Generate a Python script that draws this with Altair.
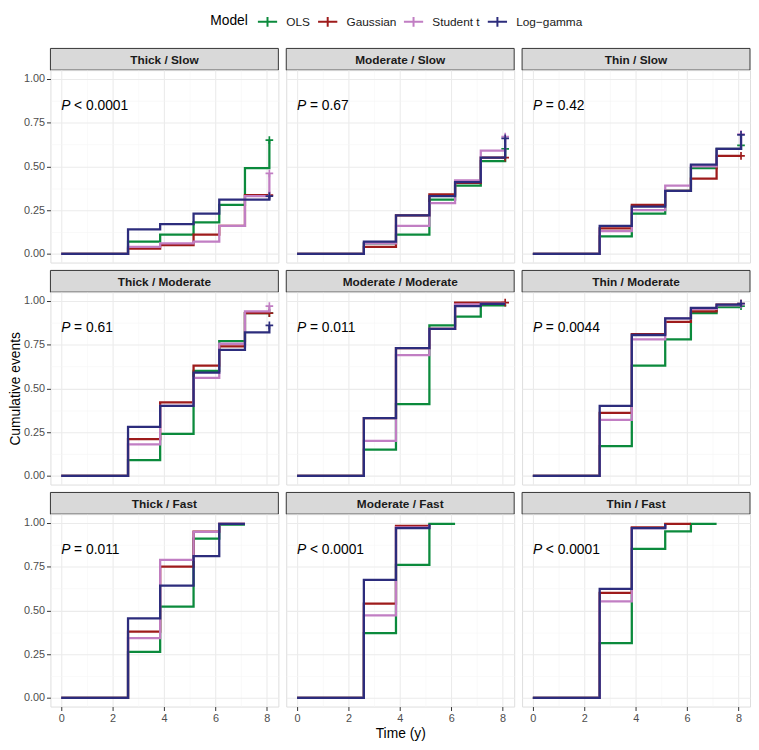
import altair as alt
import pandas as pd

FONT = "Liberation Sans"

# ---------------- data ----------------
times = [0, 2.6, 3.85, 5.15, 6.15, 7.15, 8.1]
models = ["OLS", "Gaussian", "Student t", "Log\u2212gamma"]
colors = ["#0B8A3C", "#9E1B1B", "#C17EC3", "#2C2C7C"]

panel_names = [
    "Thick / Slow", "Moderate / Slow", "Thin / Slow",
    "Thick / Moderate", "Moderate / Moderate", "Thin / Moderate",
    "Thick / Fast", "Moderate / Fast", "Thin / Fast",
]
p_values = ["< 0.0001", "= 0.67", "= 0.42",
            "= 0.61", "= 0.011", "= 0.0044",
            "= 0.011", "< 0.0001", "< 0.0001"]

# cumulative events at the successive event times (OLS, Gaussian, Student t, Log-gamma)
thick_slow = [
    [0, 0.07, 0.11, 0.18, 0.28, 0.49, 0.65],
    [0, 0.03, 0.05, 0.11, 0.16, 0.335, 0.335],
    [0, 0.04, 0.06, 0.07, 0.16, 0.33, 0.46],
    [0, 0.14, 0.17, 0.23, 0.31, 0.31, 0.33],
]
moderate_slow = [
    [0, 0.06, 0.11, 0.31, 0.39, 0.53, 0.60],
    [0, 0.04, 0.22, 0.34, 0.405, 0.55, 0.55],
    [0, 0.06, 0.16, 0.29, 0.42, 0.59, 0.67],
    [0, 0.07, 0.22, 0.33, 0.41, 0.55, 0.66],
]
thin_slow = [
    [0, 0.10, 0.23, 0.36, 0.49, 0.60, 0.62],
    [0, 0.145, 0.28, 0.36, 0.43, 0.56, 0.56],
    [0, 0.13, 0.25, 0.39, 0.50, 0.60, 0.685],
    [0, 0.16, 0.27, 0.36, 0.51, 0.60, 0.68],
]
thick_moderate = [
    [0, 0.09, 0.24, 0.60, 0.77, 0.93, 0.93],
    [0, 0.21, 0.42, 0.63, 0.74, 0.93, 0.93],
    [0, 0.18, 0.40, 0.56, 0.755, 0.94, 0.97],
    [0, 0.28, 0.40, 0.59, 0.72, 0.82, 0.86],
]
moderate_moderate = [
    [0, 0.15, 0.41, 0.86, 0.91, 0.975, 0.98],
    [0, 0.33, 0.73, 0.84, 0.99, 0.99, 0.99],
    [0, 0.20, 0.69, 0.84, 0.98, 0.985, 0.985],
    [0, 0.33, 0.73, 0.84, 0.97, 0.983, 0.983],
]
thin_moderate = [
    [0, 0.17, 0.63, 0.78, 0.93, 0.965, 0.97],
    [0, 0.36, 0.81, 0.88, 0.94, 0.978, 0.985],
    [0, 0.32, 0.78, 0.90, 0.955, 0.975, 0.98],
    [0, 0.40, 0.805, 0.90, 0.96, 0.978, 0.985],
]
thick_fast = [
    [0, 0.263, 0.522, 0.91, 0.99, 0.99],
    [0, 0.379, 0.75, 0.95, 0.994, 0.994],
    [0, 0.341, 0.788, 0.949, 0.994, 0.994],
    [0, 0.454, 0.642, 0.81, 0.994, 0.994],
]
moderate_fast = [
    [0, 0.37, 0.76, 0.994, 0.994],
    [0, 0.538, 0.983, 0.99],
    [0, 0.471, 0.975, 0.99],
    [0, 0.674, 0.97, 0.994],
]
thin_fast = [
    [0, 0.313, 0.852, 0.951, 0.994, 0.994],
    [0, 0.60, 0.975, 0.994, 0.994],
    [0, 0.552, 0.97, 0.99],
    [0, 0.623, 0.97, 0.994],
]
curves = [thick_slow, moderate_slow, thin_slow,
          thick_moderate, moderate_moderate, thin_moderate,
          thick_fast, moderate_fast, thin_fast]

# censoring mark at the end of the curve (per panel, per model)
censored = [
    [True, True, True, True], [True, True, True, True], [True, True, True, True],
    [True, True, True, True], [False, True, False, False], [True, True, True, True],
    [False, False, False, False], [False, False, False, False], [False, False, False, False],
]

rows = []
cens_rows = []
for pi, name in enumerate(panel_names):
    for mi, m in enumerate(models):
        vals = curves[pi][mi]
        for k, v in enumerate(vals):
            rows.append({"panel": name, "model": m, "time": times[k], "value": v, "k": k})
        if censored[pi][mi]:
            cens_rows.append({"panel": name, "model": m,
                              "time": times[len(vals) - 1], "value": vals[-1]})
df = pd.DataFrame(rows)
cdf = pd.DataFrame(cens_rows)

# ---------------- styling ----------------
W, H, SH, GAP = 231, 195, 22, 8
CROSS = "M-1,0L1,0M0,-1L0,1"
LEG_CROSS = "M-1,0L1,0M0,-0.5L0,0.5"

xs = alt.Scale(domain=[-0.42, 8.45], nice=False, zero=False)
ys = alt.Scale(domain=[-0.05, 1.05], nice=False, zero=False)
cscale = alt.Scale(domain=models, range=colors)

legend = alt.Legend(
    orient="none", legendX=162, legendY=-38, direction="horizontal",
    title="Model", titleOrient="left", titleFontSize=14, titleFontWeight="normal",
    titleColor="#000000", titleFont=FONT, titlePadding=8,
    labelFont=FONT, labelFontSize=12, labelColor="#1A1A1A",
    symbolType=LEG_CROSS, symbolSize=380, symbolStrokeWidth=2,
    labelOffset=8, columnPadding=3, padding=0,
)

AX = dict(labelFont=FONT, labelFontSize=11, labelColor="#4D4D4D",
          tickColor="#333333", tickSize=4, tickWidth=1, labelPadding=2,
          titleFont=FONT, titleFontSize=14, titleFontWeight="normal",
          titleColor="#000000")


def plot_panel(pi):
    name = panel_names[pi]
    r, c = divmod(pi, 3)
    left = c == 0
    bottom = r == 2
    d = df[df.panel == name]

    minor = alt.Chart(d).mark_line(opacity=0).encode(
        x=alt.X("time:Q", scale=xs, title=None, axis=alt.Axis(
            values=[1, 3, 5, 7], grid=True, gridColor="#F5F5F5", gridWidth=0.6,
            labels=False, ticks=False, domain=False, orient="top")),
        y=alt.Y("value:Q", scale=ys, title=None, axis=alt.Axis(
            values=[0.125, 0.375, 0.625, 0.875], grid=True, gridColor="#F5F5F5",
            gridWidth=0.6, labels=False, ticks=False, domain=False, orient="right")),
    )

    xkw = dict(values=[0, 2, 4, 6, 8], grid=True, gridColor="#EBEBEB", gridWidth=1.1,
               domain=False, labels=bottom, ticks=bottom, orient="bottom", titlePadding=3, **AX)
    ykw = dict(values=[0, 0.25, 0.5, 0.75, 1.0], grid=True, gridColor="#EBEBEB", gridWidth=1.1,
               domain=False, labels=left, ticks=left, orient="left", format=".2f",
               titlePadding=1, **AX)
    xt = "Time (y)" if (bottom and c == 1) else None
    yt = "Cumulative events" if (left and r == 1) else None

    layers = [minor]
    for mi, m in enumerate(models):
        dm = d[d.model == m]
        if mi == 0:
            xenc = alt.X("time:Q", scale=xs, title=xt, axis=alt.Axis(**xkw))
            yenc = alt.Y("value:Q", scale=ys, title=yt, axis=alt.Axis(**ykw))
        else:
            xenc = alt.X("time:Q", scale=xs, axis=None)
            yenc = alt.Y("value:Q", scale=ys, axis=None)
        layers.append(
            alt.Chart(dm).mark_line(interpolate="step-after", strokeWidth=2.3).encode(
                x=xenc, y=yenc,
                color=alt.Color("model:N", scale=cscale, legend=legend),
                order=alt.Order("k:Q"),
            )
        )
        cd = cdf[(cdf.panel == name) & (cdf.model == m)]
        if len(cd):
            layers.append(
                alt.Chart(cd).mark_point(shape=CROSS, size=60, strokeWidth=1.7,
                                         filled=False, opacity=1).encode(
                    x=alt.X("time:Q", scale=xs, axis=None),
                    y=alt.Y("value:Q", scale=ys, axis=None),
                    color=alt.value(colors[mi]),
                )
            )

    ptxt = pd.DataFrame({"p": ["P"], "rest": [p_values[pi]]})
    layers.append(alt.Chart(ptxt).mark_text(
        font=FONT, fontSize=14, fontStyle="italic", align="left", baseline="middle",
        color="#000000").encode(text="p:N", x=alt.value(11), y=alt.value(36)))
    layers.append(alt.Chart(ptxt).mark_text(
        font=FONT, fontSize=14, align="left", baseline="middle",
        color="#000000").encode(text="rest:N", x=alt.value(24), y=alt.value(36)))

    return alt.layer(*layers).resolve_axis(x="independent", y="independent").properties(
        width=W, height=H)


def strip_panel(pi):
    name = panel_names[pi]
    top = 0 if pi < 3 else GAP
    sd = pd.DataFrame({"label": [name]})
    rect = alt.Chart(sd).mark_rect(fill="#D9D9D9", stroke="#333333", strokeWidth=1).encode(
        x=alt.value(0), x2=alt.value(W), y=alt.value(top), y2=alt.value(top + SH))
    txt = alt.Chart(sd).mark_text(
        font=FONT, fontSize=12, fontWeight="bold", color="#1A1A1A",
        align="center", baseline="middle").encode(
        text="label:N", x=alt.value(W / 2), y=alt.value(top + SH / 2 + 1))
    return alt.layer(rect, txt).properties(
        width=W, height=top + SH, view=alt.ViewBackground(strokeOpacity=0))


cells = []
for r in range(3):
    for c in range(3):
        cells.append(strip_panel(r * 3 + c))
    for c in range(3):
        cells.append(plot_panel(r * 3 + c))

chart = alt.concat(*cells, columns=3, spacing={"row": 0, "column": 8},
                   bounds="flush").resolve_scale(
    color="shared").resolve_legend(color="shared").properties(
    padding={"left": 0, "top": -2, "right": 0, "bottom": 0}
).configure_view(stroke="#333333", strokeWidth=1).configure(font=FONT)

chart.save("out.html", embed_options={"renderer": "svg", "actions": False})
